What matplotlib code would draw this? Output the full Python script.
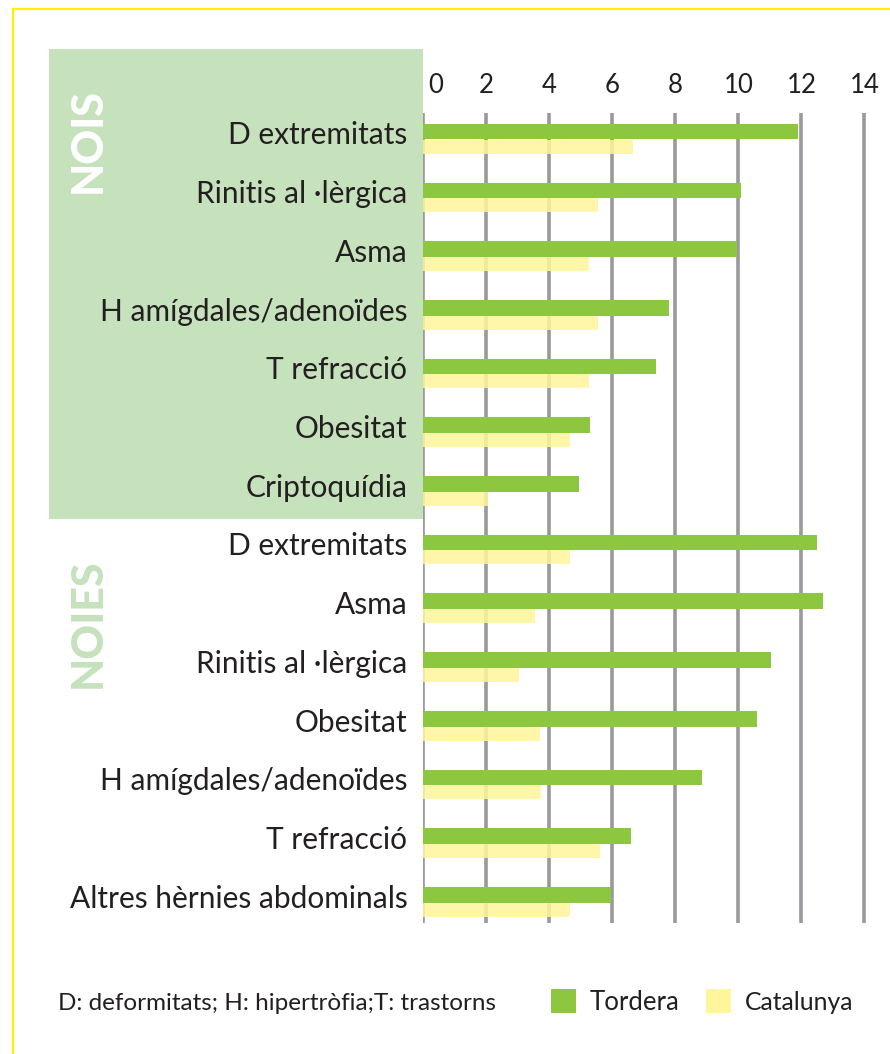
import matplotlib
matplotlib.use("Agg")
import matplotlib.pyplot as plt
from matplotlib.patches import Rectangle
from matplotlib.lines import Line2D
import matplotlib.transforms as mtransforms

categories = ["D extremitats", "Rinitis al·lèrgica", "Asma", "H amígdales/adenoïdes",
              "T refracció", "Obesitat", "Criptoquídia",
              "D extremitats", "Asma", "Rinitis al·lèrgica", "Obesitat",
              "H amígdales/adenoïdes", "T refracció", "Altres hèrnies abdominals"]
display_labels = [c.replace("al·l", "al ·l") for c in categories]
tordera = [11.9, 10.1, 9.95, 7.8, 7.4, 5.3, 4.95,
           12.5, 12.7, 11.05, 10.6, 8.85, 6.6, 5.95]
catalunya = [6.65, 5.55, 5.25, 5.55, 5.25, 4.65, 2.05,
             4.65, 3.55, 3.05, 3.7, 3.75, 5.6, 4.65]
xticks = [0, 2, 4, 6, 8, 10, 12, 14]
groups = ["NOIS", "NOIES"]
legend_note = "D: deformitats; H: hipertròfia;T: trastorns"
series_names = ["Tordera", "Catalunya"]

GREEN = "#8DC63F"
YELLOW = "#FFF59A"
BOX = "#C6E2BC"
GRID = "#99999E"
TEXT = "#231F20"
FONT = "Lato"

W, H = 890, 1054
fig = plt.figure(figsize=(W / 100, H / 100), dpi=100)
fig.patch.set_facecolor("white")

def fx(x):
    return x / W

def fy(y):
    return 1 - y / H

# frame lines (yellow)
fig.add_artist(Line2D([fx(13), fx(13)], [fy(9), fy(1060)], color="#FFF200", lw=1.6,
                      transform=fig.transFigure))
fig.add_artist(Line2D([fx(13), fx(895)], [fy(9), fy(9)], color="#FFF200", lw=1.6,
                      transform=fig.transFigure))

# green box for NOIS
fig.add_artist(Rectangle((fx(49), fy(519)), fx(423) - fx(49), fy(49) - fy(519),
                         transform=fig.transFigure, facecolor=BOX, edgecolor="none", zorder=0))

# axes geometry
x0_px = 423.3
unit = 31.5
xmax = 14.5
top_px, bot_px = 113, 923
b0 = 139.5
step = 58.7
ytop = (top_px - b0) / step
ybot = (bot_px - b0) / step

ax = fig.add_axes([fx(x0_px), fy(bot_px), (xmax * unit) / W, (bot_px - top_px) / H])
ax.set_facecolor("none")
ax.set_xlim(0, xmax)
ax.set_ylim(ybot, ytop)
for s in ax.spines.values():
    s.set_visible(False)

n = len(categories)
ys = list(range(n))
gh = 15.7 / step
yh = 14.0 / step
ax.barh([y - gh / 2 for y in ys], tordera, height=gh, color=GREEN, zorder=3)
ax.barh([y + yh / 2 for y in ys], catalunya, height=yh, color=YELLOW, alpha=0.85, zorder=3)

for t in xticks:
    ax.axvline(t, color=GRID, lw=2.6, zorder=2)

ax.set_xticks(xticks)
ax.xaxis.tick_top()
ax.set_xticklabels([str(t) for t in xticks], fontsize=18.5, family=FONT, color=TEXT)
ax.tick_params(axis="x", length=0, pad=11)
# first label sits a bit to the right of the axis line
lbl0 = ax.get_xticklabels()[0]
lbl0.set_transform(lbl0.get_transform() + mtransforms.ScaledTranslation(12 / 100, 0, fig.dpi_scale_trans))
ax.set_yticks([])

trans = mtransforms.blended_transform_factory(ax.transAxes, ax.transData)
for y, lab in zip(ys, display_labels):
    ax.text(-16 / (xmax * unit), y + 5 / step, lab, transform=trans, ha="right", va="baseline",
            fontsize=21.5, family=FONT, color=TEXT)

# group titles
fig.text(fx(88), fy(141), groups[0], rotation=90, ha="center", va="center",
         fontsize=31, family=FONT, fontweight="black", color="white")
fig.text(fx(88), fy(623), groups[1], rotation=90, ha="center", va="center",
         fontsize=31, family=FONT, fontweight="black", color=BOX)

# legend / note
fig.text(fx(58), fy(1010), legend_note, ha="left", va="baseline", fontsize=17.5,
         family=FONT, color=TEXT)
fig.add_artist(Rectangle((fx(551), fy(1013)), fx(25), fy(0) - fy(24), transform=fig.transFigure,
                         facecolor=GREEN, edgecolor="none"))
fig.text(fx(590), fy(1010), series_names[0], ha="left", va="baseline", fontsize=18.5,
         family=FONT, color=TEXT)
fig.add_artist(Rectangle((fx(706), fy(1013)), fx(25), fy(0) - fy(24), transform=fig.transFigure,
                         facecolor=YELLOW, edgecolor="none"))
fig.text(fx(745), fy(1010), series_names[1], ha="left", va="baseline", fontsize=17.8,
         family=FONT, color=TEXT)

fig.savefig("out.png", dpi=100)
